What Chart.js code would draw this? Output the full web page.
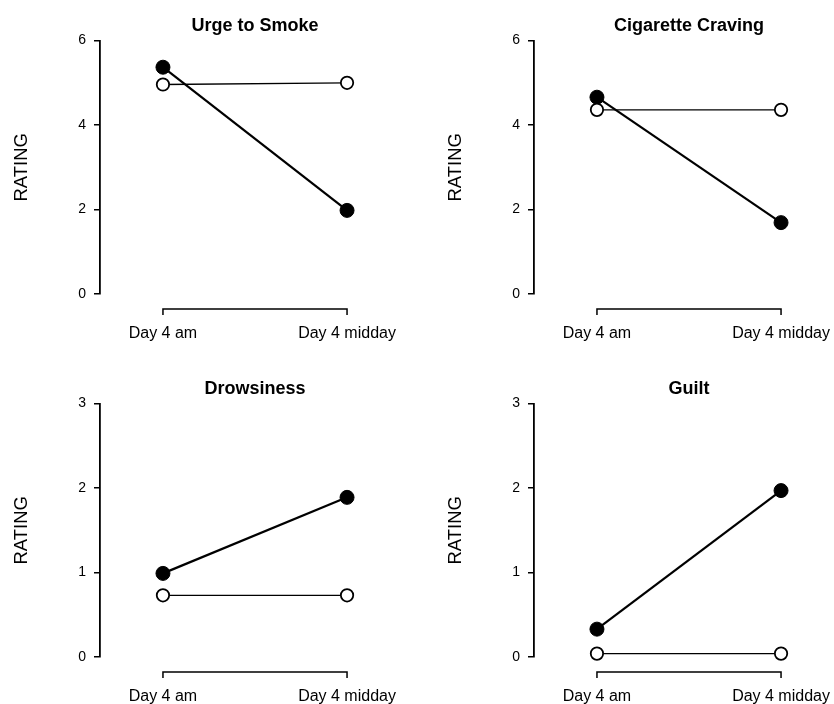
<!DOCTYPE html>
<html>
<head>
<meta charset="utf-8">
<script src="https://cdn.jsdelivr.net/npm/chart.js@4.4.0/dist/chart.umd.min.js"></script>
<style>
  html, body { margin: 0; padding: 0; background: #fff; }
  #wrap { position: relative; width: 834px; height: 704px; overflow: hidden; }
  .panel { position: absolute; width: 420px; height: 352px; }
</style>
</head>
<body>
<div id="wrap">
  <div class="panel" style="left:0;top:0"><canvas id="c1"></canvas></div>
  <div class="panel" style="left:434px;top:0"><canvas id="c2"></canvas></div>
  <div class="panel" style="left:0;top:363px"><canvas id="c3"></canvas></div>
  <div class="panel" style="left:434px;top:363px"><canvas id="c4"></canvas></div>
</div>
<script>
// ===============================
// DATA
// ===============================
const categories = ["Day 4 am", "Day 4 midday"];

const titles = ["Urge to Smoke", "Cigarette Craving", "Drowsiness", "Guilt"];

// filled circles (thick line)
const urgeFilled = [5.37, 1.98];
const cravingFilled = [4.66, 1.69];
const drowsyFilled = [0.99, 1.89];
const guiltFilled = [0.33, 1.97];

// open circles (thin line)
const urgeOpen = [4.96, 5.0];
const cravingOpen = [4.36, 4.36];
const drowsyOpen = [0.73, 0.73];
const guiltOpen = [0.04, 0.04];

const yMaxTop = 6, yStepTop = 2;
const yMaxBottom = 3, yStepBottom = 1;

// ===============================
// detached x axis line (R style)
// ===============================
const xAxisLine = {
  id: "xAxisLine",
  afterDraw(chart) {
    const x = chart.scales.x;
    const ctx = chart.ctx;
    const x0 = x.getPixelForValue(0);
    const x1 = x.getPixelForValue(categories.length - 1);
    const y = chart.chartArea.bottom + 15;
    ctx.save();
    ctx.strokeStyle = "#000";
    ctx.lineWidth = 1.5;
    ctx.beginPath();
    ctx.moveTo(x0, y + 6);
    ctx.lineTo(x0, y);
    ctx.lineTo(x1, y);
    ctx.lineTo(x1, y + 6);
    ctx.stroke();
    ctx.restore();
  }
};

function toPoints(arr) {
  return arr.map((v, i) => ({ x: i, y: v }));
}

function makeChart(id, title, filled, open, yMax, yStep) {
  new Chart(document.getElementById(id), {
    type: "line",
    data: {
      datasets: [
        {
          label: "open",
          data: toPoints(open),
          borderColor: "#000",
          borderWidth: 1.3,
          pointRadius: 6.2,
          pointBorderWidth: 1.8,
          pointBackgroundColor: "#fff",
          pointBorderColor: "#000",
          clip: false
        },
        {
          label: "filled",
          data: toPoints(filled),
          borderColor: "#000",
          borderWidth: 2.2,
          pointRadius: 7,
          pointBorderWidth: 1,
          pointBackgroundColor: "#000",
          pointBorderColor: "#000",
          clip: false
        }
      ]
    },
    options: {
      responsive: false,
      animation: false,
      events: [],
      layout: { padding: { left: 0, right: 10, top: 0, bottom: 0 } },
      plugins: {
        legend: { display: false },
        tooltip: { enabled: false },
        title: {
          display: true,
          text: title,
          fullSize: false,
          color: "#000",
          font: { family: "Liberation Sans, Arial, sans-serif", size: 18, weight: "bold", lineHeight: 1.2 },
          padding: { top: 15, bottom: 4 }
        }
      },
      scales: {
        x: {
          type: "linear",
          min: -0.342,
          max: 1.342,
          afterFit(s) {
            s.height = 58;
            // labels sit well inside the range, no side padding needed
            s.paddingLeft = 0;
            s.paddingRight = 0;
          },
          afterBuildTicks(s) { s.ticks = categories.map((c, i) => ({ value: i })); },
          grid: { display: false, drawTicks: false },
          border: { display: false },
          ticks: {
            color: "#000",
            padding: 30,
            maxRotation: 0,
            autoSkip: false,
            font: { family: "Liberation Sans, Arial, sans-serif", size: 16 },
            callback: v => categories[v]
          }
        },
        y: {
          min: 0,
          max: yMax,
          afterFit(s) { s.width = 100; },
          grid: { drawOnChartArea: false, drawTicks: true, tickLength: 6, color: "#000", lineWidth: 1.5 },
          border: { display: true, color: "#000", width: 1.8 },
          ticks: {
            stepSize: yStep,
            color: "#000",
            padding: 8,
            font: { family: "Liberation Sans, Arial, sans-serif", size: 14 }
          },
          title: {
            display: true,
            text: "RATING",
            color: "#000",
            font: { family: "Liberation Sans, Arial, sans-serif", size: 18.5, lineHeight: 1.2 },
            padding: { top: 11, bottom: 0 }
          }
        }
      }
    },
    plugins: [xAxisLine]
  });
}

function setSize(id) {
  const c = document.getElementById(id);
  c.width = 420;
  c.height = 352;
  c.style.width = "420px";
  c.style.height = "352px";
}

["c1", "c2", "c3", "c4"].forEach(setSize);

makeChart("c1", titles[0], urgeFilled, urgeOpen, yMaxTop, yStepTop);
makeChart("c2", titles[1], cravingFilled, cravingOpen, yMaxTop, yStepTop);
makeChart("c3", titles[2], drowsyFilled, drowsyOpen, yMaxBottom, yStepBottom);
makeChart("c4", titles[3], guiltFilled, guiltOpen, yMaxBottom, yStepBottom);
</script>
</body>
</html>
